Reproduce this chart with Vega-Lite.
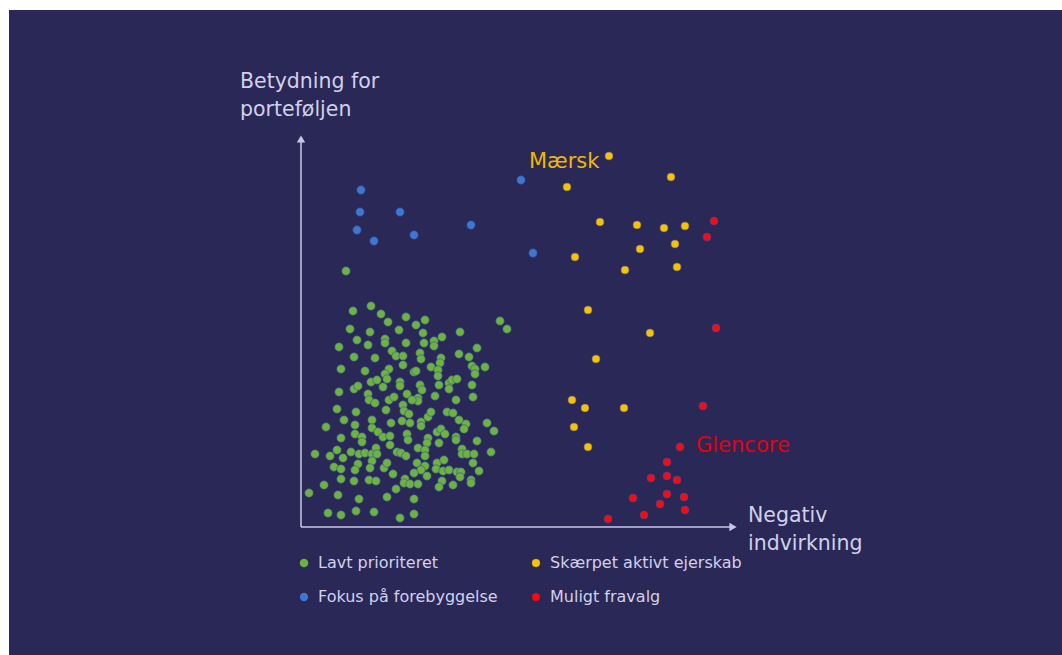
{
  "$schema": "https://vega.github.io/schema/vega-lite/v6.json",
  "autosize": "none",
  "padding": {"left": 9, "top": 10, "right": 0, "bottom": 0},
  "width": 1053,
  "height": 645,
  "background": "#ffffff",
  "config": {
    "view": {"fill": "#2a2857", "stroke": null},
    "font": "DejaVu Sans"
  },
  "datasets": {
    "pts": [
      {"g": "Lavt prioriteret", "x": 70, "y": 221}, {"g": "Lavt prioriteret", "x": 52, "y": 216}, {"g": "Lavt prioriteret", "x": 80, "y": 213}, {"g": "Lavt prioriteret", "x": 105, "y": 210}, {"g": "Lavt prioriteret", "x": 87, "y": 205}, {"g": "Lavt prioriteret", "x": 115, "y": 202}, {"g": "Lavt prioriteret", "x": 124, "y": 207}, {"g": "Lavt prioriteret", "x": 199, "y": 206}, {"g": "Lavt prioriteret", "x": 206, "y": 198}, {"g": "Lavt prioriteret", "x": 49, "y": 198},
      {"g": "Lavt prioriteret", "x": 69, "y": 195}, {"g": "Lavt prioriteret", "x": 98, "y": 197}, {"g": "Lavt prioriteret", "x": 122, "y": 194}, {"g": "Lavt prioriteret", "x": 159, "y": 195}, {"g": "Lavt prioriteret", "x": 56, "y": 187}, {"g": "Lavt prioriteret", "x": 84, "y": 188}, {"g": "Lavt prioriteret", "x": 84, "y": 184}, {"g": "Lavt prioriteret", "x": 67, "y": 182}, {"g": "Lavt prioriteret", "x": 105, "y": 184}, {"g": "Lavt prioriteret", "x": 123, "y": 184},
      {"g": "Lavt prioriteret", "x": 133, "y": 186}, {"g": "Lavt prioriteret", "x": 133, "y": 181}, {"g": "Lavt prioriteret", "x": 141, "y": 190}, {"g": "Lavt prioriteret", "x": 38, "y": 180}, {"g": "Lavt prioriteret", "x": 176, "y": 179}, {"g": "Lavt prioriteret", "x": 53, "y": 170}, {"g": "Lavt prioriteret", "x": 74, "y": 169}, {"g": "Lavt prioriteret", "x": 91, "y": 176}, {"g": "Lavt prioriteret", "x": 95, "y": 171}, {"g": "Lavt prioriteret", "x": 102, "y": 171},
      {"g": "Lavt prioriteret", "x": 102, "y": 162}, {"g": "Lavt prioriteret", "x": 119, "y": 174}, {"g": "Lavt prioriteret", "x": 120, "y": 168}, {"g": "Lavt prioriteret", "x": 140, "y": 169}, {"g": "Lavt prioriteret", "x": 139, "y": 164}, {"g": "Lavt prioriteret", "x": 158, "y": 173}, {"g": "Lavt prioriteret", "x": 168, "y": 170}, {"g": "Lavt prioriteret", "x": 40, "y": 158}, {"g": "Lavt prioriteret", "x": 64, "y": 156}, {"g": "Lavt prioriteret", "x": 88, "y": 158},
      {"g": "Lavt prioriteret", "x": 84, "y": 153}, {"g": "Lavt prioriteret", "x": 86, "y": 148}, {"g": "Lavt prioriteret", "x": 113, "y": 155}, {"g": "Lavt prioriteret", "x": 115, "y": 156}, {"g": "Lavt prioriteret", "x": 130, "y": 160}, {"g": "Lavt prioriteret", "x": 137, "y": 157}, {"g": "Lavt prioriteret", "x": 137, "y": 151}, {"g": "Lavt prioriteret", "x": 171, "y": 161}, {"g": "Lavt prioriteret", "x": 174, "y": 158}, {"g": "Lavt prioriteret", "x": 184, "y": 160},
      {"g": "Lavt prioriteret", "x": 174, "y": 153}, {"g": "Lavt prioriteret", "x": 70, "y": 145}, {"g": "Lavt prioriteret", "x": 76, "y": 147}, {"g": "Lavt prioriteret", "x": 99, "y": 145}, {"g": "Lavt prioriteret", "x": 99, "y": 141}, {"g": "Lavt prioriteret", "x": 82, "y": 140}, {"g": "Lavt prioriteret", "x": 53, "y": 138}, {"g": "Lavt prioriteret", "x": 57, "y": 141}, {"g": "Lavt prioriteret", "x": 119, "y": 142}, {"g": "Lavt prioriteret", "x": 121, "y": 137},
      {"g": "Lavt prioriteret", "x": 138, "y": 142}, {"g": "Lavt prioriteret", "x": 148, "y": 144}, {"g": "Lavt prioriteret", "x": 151, "y": 147}, {"g": "Lavt prioriteret", "x": 156, "y": 148}, {"g": "Lavt prioriteret", "x": 148, "y": 138}, {"g": "Lavt prioriteret", "x": 171, "y": 142}, {"g": "Lavt prioriteret", "x": 38, "y": 135}, {"g": "Lavt prioriteret", "x": 67, "y": 133}, {"g": "Lavt prioriteret", "x": 68, "y": 127}, {"g": "Lavt prioriteret", "x": 74, "y": 124},
      {"g": "Lavt prioriteret", "x": 88, "y": 127}, {"g": "Lavt prioriteret", "x": 93, "y": 130}, {"g": "Lavt prioriteret", "x": 106, "y": 133}, {"g": "Lavt prioriteret", "x": 117, "y": 129}, {"g": "Lavt prioriteret", "x": 117, "y": 126}, {"g": "Lavt prioriteret", "x": 111, "y": 127}, {"g": "Lavt prioriteret", "x": 134, "y": 131}, {"g": "Lavt prioriteret", "x": 155, "y": 127}, {"g": "Lavt prioriteret", "x": 172, "y": 130}, {"g": "Lavt prioriteret", "x": 36, "y": 118},
      {"g": "Lavt prioriteret", "x": 55, "y": 115}, {"g": "Lavt prioriteret", "x": 71, "y": 107}, {"g": "Lavt prioriteret", "x": 71, "y": 99}, {"g": "Lavt prioriteret", "x": 85, "y": 117}, {"g": "Lavt prioriteret", "x": 102, "y": 122}, {"g": "Lavt prioriteret", "x": 103, "y": 116}, {"g": "Lavt prioriteret", "x": 108, "y": 113}, {"g": "Lavt prioriteret", "x": 90, "y": 104}, {"g": "Lavt prioriteret", "x": 101, "y": 106}, {"g": "Lavt prioriteret", "x": 109, "y": 104},
      {"g": "Lavt prioriteret", "x": 120, "y": 105}, {"g": "Lavt prioriteret", "x": 120, "y": 101}, {"g": "Lavt prioriteret", "x": 127, "y": 110}, {"g": "Lavt prioriteret", "x": 130, "y": 115}, {"g": "Lavt prioriteret", "x": 146, "y": 115}, {"g": "Lavt prioriteret", "x": 152, "y": 114}, {"g": "Lavt prioriteret", "x": 158, "y": 107}, {"g": "Lavt prioriteret", "x": 165, "y": 103}, {"g": "Lavt prioriteret", "x": 163, "y": 98}, {"g": "Lavt prioriteret", "x": 186, "y": 104},
      {"g": "Lavt prioriteret", "x": 193, "y": 96}, {"g": "Lavt prioriteret", "x": 25, "y": 100}, {"g": "Lavt prioriteret", "x": 43, "y": 107}, {"g": "Lavt prioriteret", "x": 54, "y": 102}, {"g": "Lavt prioriteret", "x": 77, "y": 95}, {"g": "Lavt prioriteret", "x": 82, "y": 90}, {"g": "Lavt prioriteret", "x": 89, "y": 91}, {"g": "Lavt prioriteret", "x": 89, "y": 82}, {"g": "Lavt prioriteret", "x": 106, "y": 93}, {"g": "Lavt prioriteret", "x": 107, "y": 87},
      {"g": "Lavt prioriteret", "x": 127, "y": 89}, {"g": "Lavt prioriteret", "x": 126, "y": 84}, {"g": "Lavt prioriteret", "x": 136, "y": 95}, {"g": "Lavt prioriteret", "x": 140, "y": 98}, {"g": "Lavt prioriteret", "x": 144, "y": 93}, {"g": "Lavt prioriteret", "x": 155, "y": 90}, {"g": "Lavt prioriteret", "x": 155, "y": 87}, {"g": "Lavt prioriteret", "x": 138, "y": 84}, {"g": "Lavt prioriteret", "x": 176, "y": 86}, {"g": "Lavt prioriteret", "x": 40, "y": 89},
      {"g": "Lavt prioriteret", "x": 54, "y": 93}, {"g": "Lavt prioriteret", "x": 61, "y": 90}, {"g": "Lavt prioriteret", "x": 61, "y": 85}, {"g": "Lavt prioriteret", "x": 14, "y": 73}, {"g": "Lavt prioriteret", "x": 29, "y": 71}, {"g": "Lavt prioriteret", "x": 36, "y": 77}, {"g": "Lavt prioriteret", "x": 42, "y": 69}, {"g": "Lavt prioriteret", "x": 50, "y": 75}, {"g": "Lavt prioriteret", "x": 58, "y": 73}, {"g": "Lavt prioriteret", "x": 64, "y": 74},
      {"g": "Lavt prioriteret", "x": 71, "y": 73}, {"g": "Lavt prioriteret", "x": 75, "y": 79}, {"g": "Lavt prioriteret", "x": 76, "y": 73}, {"g": "Lavt prioriteret", "x": 71, "y": 66}, {"g": "Lavt prioriteret", "x": 96, "y": 75}, {"g": "Lavt prioriteret", "x": 100, "y": 74}, {"g": "Lavt prioriteret", "x": 105, "y": 71}, {"g": "Lavt prioriteret", "x": 117, "y": 79}, {"g": "Lavt prioriteret", "x": 124, "y": 77}, {"g": "Lavt prioriteret", "x": 124, "y": 71},
      {"g": "Lavt prioriteret", "x": 136, "y": 64}, {"g": "Lavt prioriteret", "x": 143, "y": 67}, {"g": "Lavt prioriteret", "x": 161, "y": 78}, {"g": "Lavt prioriteret", "x": 161, "y": 73}, {"g": "Lavt prioriteret", "x": 166, "y": 73}, {"g": "Lavt prioriteret", "x": 173, "y": 73}, {"g": "Lavt prioriteret", "x": 172, "y": 64}, {"g": "Lavt prioriteret", "x": 190, "y": 75}, {"g": "Lavt prioriteret", "x": 33, "y": 60}, {"g": "Lavt prioriteret", "x": 40, "y": 58},
      {"g": "Lavt prioriteret", "x": 57, "y": 63}, {"g": "Lavt prioriteret", "x": 69, "y": 59}, {"g": "Lavt prioriteret", "x": 83, "y": 59}, {"g": "Lavt prioriteret", "x": 86, "y": 64}, {"g": "Lavt prioriteret", "x": 116, "y": 64}, {"g": "Lavt prioriteret", "x": 124, "y": 61}, {"g": "Lavt prioriteret", "x": 120, "y": 57}, {"g": "Lavt prioriteret", "x": 135, "y": 58}, {"g": "Lavt prioriteret", "x": 142, "y": 56}, {"g": "Lavt prioriteret", "x": 148, "y": 57},
      {"g": "Lavt prioriteret", "x": 156, "y": 55}, {"g": "Lavt prioriteret", "x": 160, "y": 55}, {"g": "Lavt prioriteret", "x": 159, "y": 50}, {"g": "Lavt prioriteret", "x": 178, "y": 56}, {"g": "Lavt prioriteret", "x": 54, "y": 57}, {"g": "Lavt prioriteret", "x": 40, "y": 48}, {"g": "Lavt prioriteret", "x": 53, "y": 46}, {"g": "Lavt prioriteret", "x": 68, "y": 47}, {"g": "Lavt prioriteret", "x": 75, "y": 46}, {"g": "Lavt prioriteret", "x": 92, "y": 53},
      {"g": "Lavt prioriteret", "x": 104, "y": 48}, {"g": "Lavt prioriteret", "x": 103, "y": 44}, {"g": "Lavt prioriteret", "x": 109, "y": 43}, {"g": "Lavt prioriteret", "x": 113, "y": 54}, {"g": "Lavt prioriteret", "x": 117, "y": 43}, {"g": "Lavt prioriteret", "x": 126, "y": 51}, {"g": "Lavt prioriteret", "x": 141, "y": 46}, {"g": "Lavt prioriteret", "x": 138, "y": 40}, {"g": "Lavt prioriteret", "x": 152, "y": 42}, {"g": "Lavt prioriteret", "x": 170, "y": 47},
      {"g": "Lavt prioriteret", "x": 170, "y": 44}, {"g": "Lavt prioriteret", "x": 23, "y": 42}, {"g": "Lavt prioriteret", "x": 8, "y": 34}, {"g": "Lavt prioriteret", "x": 37, "y": 32}, {"g": "Lavt prioriteret", "x": 58, "y": 28}, {"g": "Lavt prioriteret", "x": 86, "y": 30}, {"g": "Lavt prioriteret", "x": 95, "y": 38}, {"g": "Lavt prioriteret", "x": 113, "y": 28}, {"g": "Lavt prioriteret", "x": 27, "y": 14}, {"g": "Lavt prioriteret", "x": 40, "y": 12},
      {"g": "Lavt prioriteret", "x": 55, "y": 16}, {"g": "Lavt prioriteret", "x": 73, "y": 15}, {"g": "Lavt prioriteret", "x": 99, "y": 9}, {"g": "Lavt prioriteret", "x": 113, "y": 13}, {"g": "Lavt prioriteret", "x": 45, "y": 256},
      {"g": "Fokus på forebyggelse", "x": 60, "y": 337}, {"g": "Fokus på forebyggelse", "x": 59, "y": 315}, {"g": "Fokus på forebyggelse", "x": 99, "y": 315}, {"g": "Fokus på forebyggelse", "x": 56, "y": 297}, {"g": "Fokus på forebyggelse", "x": 73, "y": 286}, {"g": "Fokus på forebyggelse", "x": 113, "y": 292}, {"g": "Fokus på forebyggelse", "x": 170, "y": 302}, {"g": "Fokus på forebyggelse", "x": 220, "y": 347}, {"g": "Fokus på forebyggelse", "x": 232, "y": 274},
      {"g": "Skærpet aktivt ejerskab", "x": 308, "y": 371}, {"g": "Skærpet aktivt ejerskab", "x": 370, "y": 350}, {"g": "Skærpet aktivt ejerskab", "x": 266, "y": 340}, {"g": "Skærpet aktivt ejerskab", "x": 299, "y": 305}, {"g": "Skærpet aktivt ejerskab", "x": 336, "y": 302}, {"g": "Skærpet aktivt ejerskab", "x": 363, "y": 299}, {"g": "Skærpet aktivt ejerskab", "x": 384, "y": 301}, {"g": "Skærpet aktivt ejerskab", "x": 374, "y": 283}, {"g": "Skærpet aktivt ejerskab", "x": 339, "y": 278}, {"g": "Skærpet aktivt ejerskab", "x": 274, "y": 270},
      {"g": "Skærpet aktivt ejerskab", "x": 324, "y": 257}, {"g": "Skærpet aktivt ejerskab", "x": 376, "y": 260}, {"g": "Skærpet aktivt ejerskab", "x": 287, "y": 217}, {"g": "Skærpet aktivt ejerskab", "x": 349, "y": 194}, {"g": "Skærpet aktivt ejerskab", "x": 295, "y": 168}, {"g": "Skærpet aktivt ejerskab", "x": 271, "y": 127}, {"g": "Skærpet aktivt ejerskab", "x": 284, "y": 119}, {"g": "Skærpet aktivt ejerskab", "x": 323, "y": 119}, {"g": "Skærpet aktivt ejerskab", "x": 273, "y": 100}, {"g": "Skærpet aktivt ejerskab", "x": 287, "y": 80},
      {"g": "Muligt fravalg", "x": 413, "y": 306}, {"g": "Muligt fravalg", "x": 406, "y": 290}, {"g": "Muligt fravalg", "x": 415, "y": 199}, {"g": "Muligt fravalg", "x": 402, "y": 121}, {"g": "Muligt fravalg", "x": 379, "y": 80}, {"g": "Muligt fravalg", "x": 366, "y": 65}, {"g": "Muligt fravalg", "x": 350, "y": 49}, {"g": "Muligt fravalg", "x": 366, "y": 51}, {"g": "Muligt fravalg", "x": 376, "y": 47}, {"g": "Muligt fravalg", "x": 332, "y": 29},
      {"g": "Muligt fravalg", "x": 366, "y": 33}, {"g": "Muligt fravalg", "x": 383, "y": 30}, {"g": "Muligt fravalg", "x": 359, "y": 23}, {"g": "Muligt fravalg", "x": 384, "y": 17}, {"g": "Muligt fravalg", "x": 343, "y": 12}, {"g": "Muligt fravalg", "x": 307, "y": 8}
    ],
    "axes": [
      {"x": 0, "y": 0, "x2": 432, "y2": 0},
      {"x": 0, "y": 0, "x2": 0, "y2": 388}
    ],
    "heads": [
      {"x": 432, "y": 0, "dir": "right"},
      {"x": 0, "y": 388, "dir": "up"}
    ],
    "labels": [
      {"kind": "axis", "x": -61, "y": 439, "text": "Betydning for"},
      {"kind": "axis", "x": -61, "y": 411, "text": "porteføljen"},
      {"kind": "axis", "x": 447, "y": 5, "text": "Negativ"},
      {"kind": "axis", "x": 447, "y": -23, "text": "indvirkning"},
      {"kind": "maersk", "x": 228, "y": 359, "text": "Mærsk"},
      {"kind": "glencore", "x": 395, "y": 75, "text": "Glencore"}
    ]
  },
  "encoding": {
    "x": {"field": "x", "type": "quantitative", "scale": {"domain": [-292, 761], "nice": false, "zero": false}, "axis": null},
    "y": {"field": "y", "type": "quantitative", "scale": {"domain": [-128, 517], "nice": false, "zero": false}, "axis": null}
  },
  "layer": [
    {
      "data": {"name": "axes"},
      "mark": {"type": "rule", "color": "#c9c7e6", "strokeWidth": 1.5},
      "encoding": {"x2": {"field": "x2"}, "y2": {"field": "y2"}}
    },
    {
      "data": {"name": "heads"},
      "transform": [{"filter": "datum.dir == 'right'"}],
      "mark": {"type": "point", "shape": "triangle-right", "filled": true, "color": "#c9c7e6", "size": 70, "opacity": 1}
    },
    {
      "data": {"name": "heads"},
      "transform": [{"filter": "datum.dir == 'up'"}],
      "mark": {"type": "point", "shape": "triangle-up", "filled": true, "color": "#c9c7e6", "size": 70, "opacity": 1}
    },
    {
      "data": {"name": "pts"},
      "mark": {"type": "circle", "opacity": 1, "stroke": "#3b4c9c", "strokeWidth": 0.6},
      "encoding": {
        "color": {
          "field": "g", "type": "nominal",
          "scale": {
            "domain": ["Lavt prioriteret", "Fokus på forebyggelse", "Skærpet aktivt ejerskab", "Muligt fravalg"],
            "range": ["#6cb33f", "#3d78d0", "#f7c300", "#fa0a0f"]
          },
          "legend": {
            "title": null, "orient": "none", "legendX": 287, "legendY": 545, "columns": 2,
            "labelFont": "DejaVu Sans", "labelFontSize": 16, "labelColor": "#d2d0ea", "labelLimit": 400,
            "symbolSize": 32, "symbolStrokeWidth": 0, "symbolType": "circle",
            "rowPadding": 18, "columnPadding": 30, "labelOffset": 6
          }
        },
        "size": {
          "field": "g", "type": "nominal",
          "scale": {
            "domain": ["Lavt prioriteret", "Fokus på forebyggelse", "Skærpet aktivt ejerskab", "Muligt fravalg"],
            "range": [72, 62, 42, 64]
          },
          "legend": null
        }
      }
    },
    {
      "data": {"name": "labels"},
      "transform": [{"filter": "datum.kind == 'axis'"}],
      "mark": {"type": "text", "align": "left", "baseline": "alphabetic", "fontSize": 20.5, "color": "#d2d0ea"},
      "encoding": {"text": {"field": "text"}}
    },
    {
      "data": {"name": "labels"},
      "transform": [{"filter": "datum.kind == 'maersk'"}],
      "mark": {"type": "text", "align": "left", "baseline": "alphabetic", "fontSize": 21, "color": "#f0b800"},
      "encoding": {"text": {"field": "text"}}
    },
    {
      "data": {"name": "labels"},
      "transform": [{"filter": "datum.kind == 'glencore'"}],
      "mark": {"type": "text", "align": "left", "baseline": "alphabetic", "fontSize": 21, "color": "#e3000f"},
      "encoding": {"text": {"field": "text"}}
    }
  ]
}
